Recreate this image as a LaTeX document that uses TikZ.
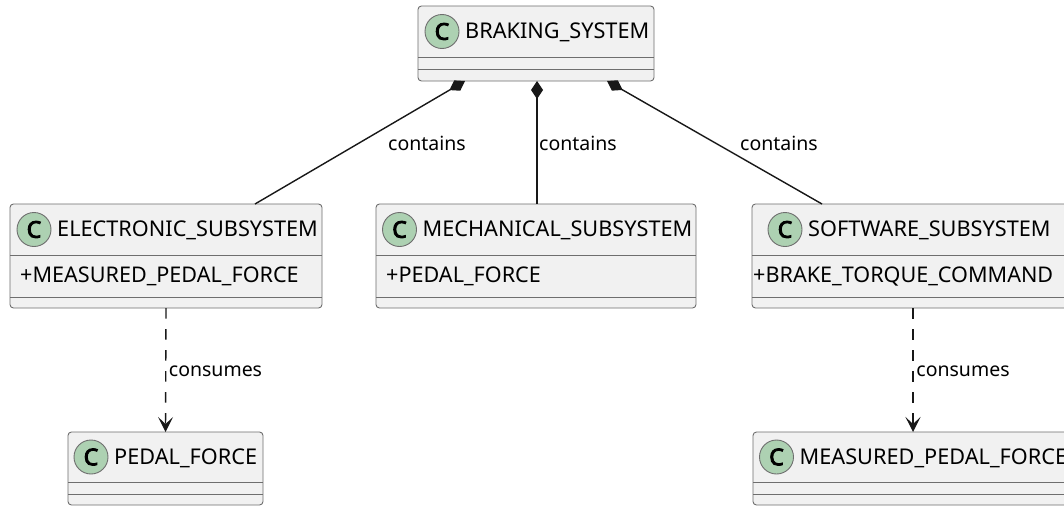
\documentclass[tikz,border=0pt]{standalone}
\usepackage{fontspec}
\setmainfont{Noto Sans}
\newfontfamily\badgefont{Noto Sans}[FakeBold=4]
\usetikzlibrary{arrows.meta,calc}

\definecolor{boxfill}{HTML}{F1F1F1}
\definecolor{boxline}{HTML}{6E6E6E}
\definecolor{badge}{HTML}{ADD1B2}
\definecolor{ink}{HTML}{181818}

\tikzset{
  classbox/.style={draw=boxline, line width=0.9pt, fill=boxfill,
    rounded corners=3.5pt, inner sep=0pt, outer sep=0pt},
  sepline/.style={draw=boxline, line width=0.9pt},
  badgecircle/.style={circle, draw=boxline, line width=0.9pt, fill=badge,
    minimum size=34pt, inner sep=0pt, text=black,
    font=\fontsize{23}{23}\badgefont},
  cname/.style={anchor=base west, inner sep=0pt, text=black,
    font=\fontsize{21.7}{21.7}\selectfont},
  attr/.style={anchor=base west, inner sep=0pt, text=black,
    font=\fontsize{21.6}{21.6}\selectfont},
  lbl/.style={inner sep=0pt, text=black, font=\fontsize{19.5}{19.5}\selectfont},
  compose/.style={draw=ink, line width=1.4pt, {Diamond[length=18pt,width=12pt]}-},
  depend/.style={draw=ink, line width=1.4pt, dash pattern=on 10.5pt off 10.5pt,
    -{Stealth[length=15pt,width=15pt,inset=7pt]}},
}

% class box: id, left, top, right, bottom, first separator, second separator,
% badge centre x, class name
\newcommand{\umlclass}[9]{%
  \node[classbox, minimum width={#4-#2}, minimum height={#5-#3}]
    (#1) at ({(#2+#4)/2},{(#3+#5)/2}) {};
  \draw[sepline] (#2,#6) -- (#4,#6);
  \draw[sepline] (#2,#7) -- (#4,#7);
  \node[badgecircle] (#1-badge) at (#8,{(#3+#6)/2}) {C};
  \node[cname] (#1-name) at ({#8+23},{#3+32}) {#9};
}

\begin{document}
\begin{tikzpicture}[x=1pt,y=-1pt]
  \useasboundingbox (0,0) rectangle (1064,506);
  \fill[white] (0,0) rectangle (1064,506);
  \clip (0,0) rectangle (1064,506);

  % classes
  \umlclass{bs}{418}{6}{654}{81}{57}{69}{442}{BRAKING\_SYSTEM}
  \umlclass{es}{10}{204}{322}{308}{255}{297}{34}{ELECTRONIC\_SUBSYSTEM}
  \umlclass{ms}{376}{204}{696}{308}{255}{297}{399.5}{MECHANICAL\_SUBSYSTEM}
  \umlclass{ss}{752}{204}{1074}{308}{255}{297}{785}{SOFTWARE\_SUBSYSTEM}
  \umlclass{pf}{68}{432}{263}{505}{482}{494}{91}{PEDAL\_FORCE}
  \umlclass{mpf}{753}{432}{1073}{505}{482}{494}{776.5}{MEASURED\_PEDAL\_FORCE}

  % attributes
  \node[attr] (es-attr) at (20,282.5) {+MEASURED\_PEDAL\_FORCE};
  \node[attr] (ms-attr) at (386,282.5) {+PEDAL\_FORCE};
  \node[attr] (ss-attr) at (753,282.5) {+BRAKE\_TORQUE\_COMMAND};

  % composition links
  \draw[compose] ([xshift=-71pt]bs.south) -- ([xshift=89pt]es.north);
  \draw[compose] ([xshift=1pt]bs.south) -- ([xshift=1pt]ms.north);
  \draw[compose] ([xshift=71pt]bs.south) -- ([xshift=-91pt]ss.north);
  \node[lbl] (l1) at (427,143) {contains};
  \node[lbl] (l2) at (578,143) {contains};
  \node[lbl] (l3) at (779,143) {contains};

  % dependency links
  \draw[depend] (es.south) -- (pf.north);
  \draw[depend] (ss.south) -- (mpf.north);
  \node[lbl] (l4) at (215.5,371) {consumes};
  \node[lbl] (l5) at (963,371) {consumes};
\end{tikzpicture}
\end{document}
